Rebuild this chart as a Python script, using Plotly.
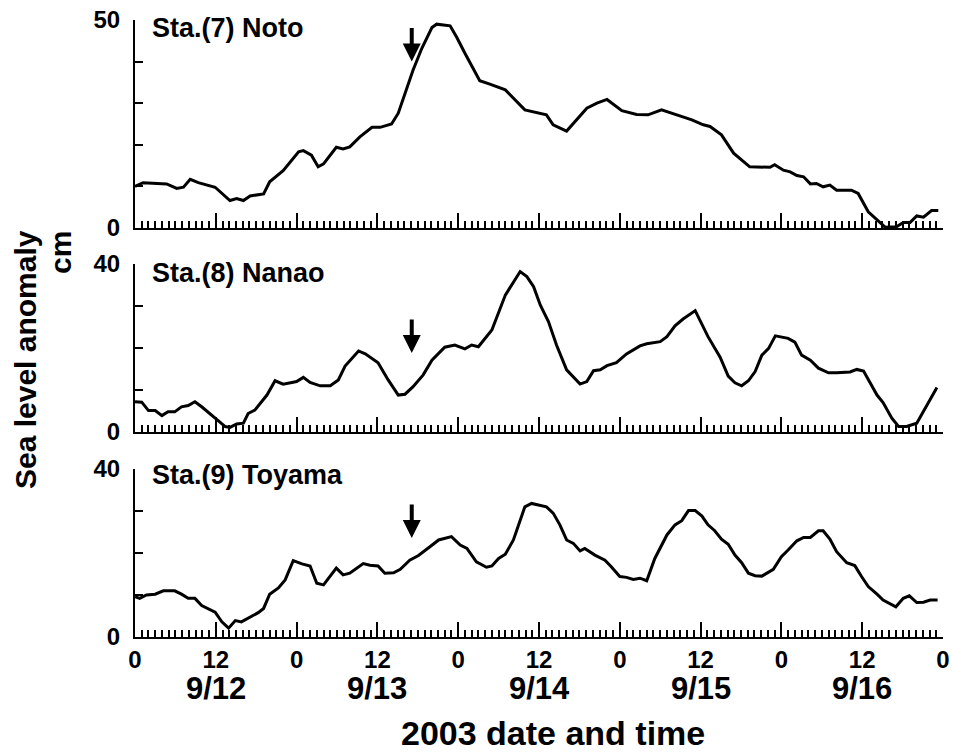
import plotly.graph_objects as go

# ---- data (hours since 2003-09-12 00:00, sea level anomaly in cm) ----
noto_h = [0, 1.2, 4.7, 6.2, 7.2, 8.2, 9.4, 11.9, 14.1, 15.1,
          16.1, 17.1, 19.1, 20.0, 22.0, 24.3, 25.0, 26.2, 27.2, 28.0,
          29.9, 30.9, 31.9, 33.4, 35.2, 36.4, 38.1, 39.1, 41.3, 42.6,
          44.1, 44.8, 46.8, 47.8, 49.0, 50.2, 51.2, 52.7, 55.0, 57.9,
          61.1, 62.1, 64.1, 67.1, 68.6, 70.1, 72.3, 74.5, 76.2, 78.2,
          80.4, 82.7, 84.4, 85.4, 87.1, 88.9, 91.3, 94.3, 95.0, 96.3,
          97.3, 98.3, 99.3, 100.3, 101.2, 102.2, 103.2, 104.2, 106.4, 107.4,
          108.9, 110.7, 111.4, 113.1, 114.1, 115.1, 116.1, 117.1, 118.3, 119.3]
noto_v = [10.0, 10.9, 10.6, 9.5, 9.8, 11.7, 10.9, 9.8, 6.6, 7.1,
          6.6, 7.7, 8.2, 11.1, 13.8, 18.3, 18.6, 17.5, 14.7, 15.4,
          19.4, 19.0, 19.5, 21.9, 24.2, 24.2, 25.0, 27.6, 38.0, 43.2,
          48.2, 49.0, 48.6, 45.8, 42.0, 38.5, 35.4, 34.6, 33.2, 28.4,
          27.2, 24.8, 23.3, 28.8, 30.0, 30.9, 28.2, 27.3, 27.2, 28.4,
          27.2, 26.0, 24.8, 24.4, 22.4, 18.0, 14.7, 14.6, 15.2, 13.9,
          13.5, 12.6, 12.3, 10.6, 10.7, 9.9, 10.3, 9.1, 9.1, 8.3,
          3.9, 1.1, 0.2, 0.3, 1.3, 1.3, 2.9, 2.6, 4.2, 4.2]

nanao_h = [0, 1.0, 2.0, 3.0, 4.0, 4.9, 5.9, 6.9, 7.9, 8.9,
           9.9, 11.1, 12.4, 13.4, 14.1, 15.1, 16.1, 16.8, 17.8, 19.6,
           20.8, 22.0, 23.3, 24.0, 25.0, 26.0, 27.5, 29.0, 30.2, 31.2,
           33.2, 34.2, 36.1, 37.6, 39.1, 40.1, 41.3, 42.8, 44.1, 46.0,
           47.5, 49.0, 50.0, 51.0, 53.0, 55.0, 57.2, 58.2, 59.2, 60.2,
           61.4, 62.6, 64.1, 66.1, 67.1, 68.1, 69.1, 70.1, 71.5, 73.0,
           75.0, 76.0, 78.0, 79.0, 80.2, 81.4, 83.2, 85.1, 86.9, 88.1,
           89.1, 90.1, 91.1, 92.1, 93.1, 94.1, 95.1, 97.0, 98.0, 99.0,
           100.3, 101.5, 103.0, 104.2, 106.2, 107.2, 108.2, 110.2, 111.1, 112.4,
           113.4, 114.6, 116.1, 117.6, 119.1]
nanao_v = [7.2, 7.1, 5.1, 5.1, 3.9, 4.8, 4.8, 6.0, 6.3, 7.2,
           6.0, 4.4, 2.5, 1.3, 1.1, 1.9, 2.1, 4.4, 5.2, 8.8,
           12.2, 11.4, 11.8, 12.0, 13.0, 11.8, 11.0, 11.0, 12.4, 15.7,
           19.3, 18.6, 16.5, 12.4, 8.8, 9.0, 10.8, 13.6, 17.1, 20.2,
           20.7, 19.8, 20.7, 20.3, 24.3, 32.6, 38.2, 37.0, 34.6, 30.2,
           26.3, 20.7, 14.8, 11.4, 12.0, 14.6, 14.8, 15.8, 16.5, 18.6,
           20.5, 21.0, 21.5, 22.7, 25.3, 26.9, 28.9, 22.7, 17.8, 13.3,
           11.7, 11.0, 12.2, 14.4, 18.3, 19.9, 22.9, 22.3, 21.4, 18.3,
           17.1, 15.2, 14.1, 14.1, 14.3, 14.9, 14.5, 8.8, 7.0, 3.3,
           1.3, 1.3, 2.1, 6.4, 10.6]

toyama_h = [0, 0.7, 1.7, 3.0, 4.2, 5.9, 6.9, 7.9, 8.9, 9.9,
            11.9, 12.9, 13.9, 14.9, 15.8, 16.8, 18.3, 19.1, 20.0, 21.3,
            22.3, 23.5, 24.8, 26.0, 27.0, 28.0, 29.9, 30.9, 31.9, 33.9,
            34.9, 36.1, 37.1, 38.4, 39.4, 40.8, 42.1, 43.8, 45.1, 47.0,
            48.3, 49.3, 50.7, 52.2, 53.0, 54.0, 55.0, 56.2, 57.9, 58.9,
            61.1, 62.1, 63.1, 64.1, 65.1, 66.1, 66.8, 68.3, 69.8, 70.8,
            72.0, 73.0, 74.0, 75.0, 76.0, 77.2, 79.0, 80.2, 81.2, 82.2,
            83.2, 84.2, 85.1, 86.1, 87.1, 88.1, 89.1, 90.1, 91.1, 92.1,
            93.1, 94.8, 96.0, 97.0, 98.3, 99.3, 100.3, 101.5, 102.2, 103.2,
            104.2, 105.7, 106.9, 107.9, 108.9, 110.2, 111.1, 113.0, 114.1, 115.0,
            116.1, 117.1, 118.1, 119.2]
toyama_v = [9.6, 9.2, 10.0, 10.2, 11.0, 11.0, 10.2, 9.2, 9.2, 7.5,
            5.9, 3.6, 2.1, 3.9, 3.6, 4.5, 5.8, 6.8, 10.2, 11.7,
            13.6, 18.2, 17.4, 16.9, 12.8, 12.4, 16.4, 14.8, 15.2, 17.5,
            17.1, 16.9, 15.2, 15.3, 16.1, 18.3, 19.4, 21.5, 23.1, 23.9,
            21.9, 21.1, 17.9, 16.6, 16.9, 18.7, 19.7, 23.1, 31.0, 31.8,
            31.0, 29.5, 26.7, 23.1, 22.3, 20.5, 21.1, 19.5, 18.3, 16.6,
            14.4, 14.2, 13.7, 14.0, 13.4, 18.7, 24.3, 26.7, 27.7, 30.1,
            30.1, 28.8, 26.7, 25.3, 23.3, 22.1, 19.5, 17.7, 15.2, 14.6,
            14.5, 16.1, 19.1, 20.7, 22.9, 23.7, 23.7, 25.3, 25.3, 23.3,
            20.3, 17.7, 17.0, 14.4, 12.0, 10.2, 8.8, 7.2, 9.2, 9.8,
            8.2, 8.3, 8.8, 8.8]

station_names = ["Sta.(7) Noto", "Sta.(8) Nanao", "Sta.(9) Toyama"]
y_max = [50, 40, 40]
arrow_hour = 41.1
arrow_tip = [40.0, 18.8, 23.6]

# tick labels: hours of day at every 12 h step
x_label_alias = {24: "0", 36: "12", 48: "0", 60: "12", 72: "0",
                 84: "12", 96: "0", 108: "12", 120: "0"}
date_hours = [12, 36, 60, 84, 108]
date_labels = ["9/12", "9/13", "9/14", "9/15", "9/16"]

# ---- layout geometry (pixels of a 953x753 canvas) ----
W, H = 953, 753
x_dom = [135 / W, 943 / W]
panels_px = [(20, 228), (264, 432), (469, 637)]
y_doms = [[1 - b / H, 1 - t / H] for (t, b) in panels_px]

FONT = "Liberation Sans, Arial, Helvetica, sans-serif"

fig = go.Figure()
series = [(noto_h, noto_v), (nanao_h, nanao_v), (toyama_h, toyama_v)]
for i, (hx, vy) in enumerate(series):
    sfx = "" if i == 0 else str(i + 1)
    fig.add_trace(go.Scatter(x=hx, y=vy, mode="lines",
                             line=dict(color="black", width=3),
                             xaxis="x" + sfx, yaxis="y" + sfx,
                             showlegend=False, hoverinfo="skip"))

layout = dict(width=W, height=H, margin=dict(l=0, r=0, t=0, b=0),
              paper_bgcolor="white", plot_bgcolor="white",
              font=dict(family=FONT, color="black", weight="bold"),
              showlegend=False)

for i in range(3):
    sfx = "" if i == 0 else str(i + 1)
    layout["xaxis" + sfx] = dict(
        domain=x_dom, range=[0, 120], anchor="y" + sfx, automargin=False,
        showline=True, linewidth=2, linecolor="black",
        showgrid=False, zeroline=False,
        ticks="inside", tickmode="linear", tick0=0, dtick=12,
        labelalias=x_label_alias,
        ticklen=15, tickwidth=2, tickcolor="black",
        minor=dict(ticks="inside", tickmode="linear", tick0=0, dtick=1,
                   ticklen=7, tickwidth=1.5, tickcolor="black", showgrid=False),
        showticklabels=(i == 2), ticklabelstandoff=0,
        tickfont=dict(family=FONT, size=24, color="black", weight="bold"),
        fixedrange=True)
    yt = list(range(0, y_max[i] + 1, 10))
    layout["yaxis" + sfx] = dict(
        domain=y_doms[i], range=[0, y_max[i]], anchor="x" + sfx, automargin=False,
        showline=True, linewidth=2, linecolor="black",
        showgrid=False, zeroline=False,
        ticks="inside", tickmode="array", tickvals=yt,
        ticktext=[str(v) if v in (0, y_max[i]) else "" for v in yt],
        ticklen=8, tickwidth=2, tickcolor="black", ticklabelstandoff=8,
        tickfont=dict(family=FONT, size=24, color="black", weight="bold"),
        fixedrange=True)

ann = []
label_y_px = [28, 273, 475]
for i in range(3):
    sfx = "" if i == 0 else str(i + 1)
    ann.append(dict(text=station_names[i], xref="paper", yref="paper",
                    x=150 / W, y=1 - label_y_px[i] / H, xanchor="left", yanchor="middle",
                    showarrow=False,
                    font=dict(family=FONT, size=27, color="black", weight="bold")))
    ann.append(dict(text="", xref="x" + sfx, yref="y" + sfx,
                    x=arrow_hour, y=arrow_tip[i], ax=0, ay=-35,
                    showarrow=True, arrowhead=2, arrowsize=0.9, arrowwidth=4,
                    arrowcolor="black", standoff=0))

for hx, lab in zip(date_hours, date_labels):
    ann.append(dict(text=lab, xref="x3", yref="paper", x=hx, y=1 - 688 / H,
                    xanchor="center", yanchor="middle", showarrow=False,
                    font=dict(family=FONT, size=31, color="black", weight="bold")))

ann.append(dict(text="2003 date and time", xref="paper", yref="paper",
                x=553 / W, y=1 - 733 / H, xanchor="center", yanchor="middle",
                showarrow=False,
                font=dict(family=FONT, size=34, color="black", weight="bold")))

ann.append(dict(text="Sea level anomaly", xref="paper", yref="paper",
                x=25 / W, y=1 - 360 / H, xanchor="center", yanchor="middle",
                textangle=-90, showarrow=False,
                font=dict(family=FONT, size=30, color="black", weight="bold")))
ann.append(dict(text="cm", xref="paper", yref="paper",
                x=61 / W, y=1 - 252 / H, xanchor="center", yanchor="middle",
                textangle=-90, showarrow=False,
                font=dict(family=FONT, size=30, color="black", weight="bold")))

layout["annotations"] = ann
fig.update_layout(**layout)
fig.write_html("out.html", config={"displayModeBar": False},
               post_script="document.body.style.margin='0';document.body.style.overflow='hidden';")
